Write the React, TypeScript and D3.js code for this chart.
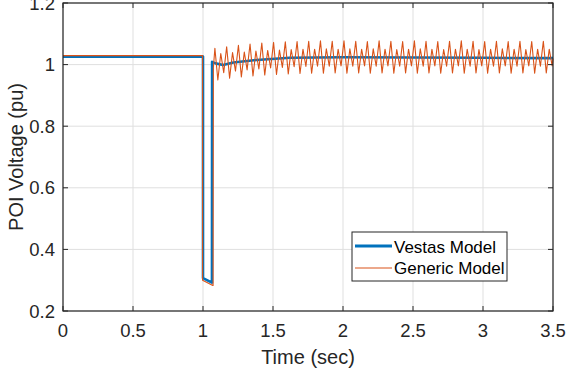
import React from "react";
import * as d3 from "d3";

const xTicks = [0, 0.5, 1, 1.5, 2, 2.5, 3, 3.5];
const yTicks = [0.2, 0.4, 0.6, 0.8, 1, 1.2];
const seriesNames = ["Vestas Model", "Generic Model"];

const vestasTime = [0, 1.0, 1.0, 1.064, 1.065, 1.09, 1.143, 1.217, 1.383, 1.62, 2.0, 2.5, 3.0, 3.5];
const vestasVolt = [1.026, 1.026, 0.307, 0.292, 1.009, 1.004, 0.999, 1.007, 1.015, 1.022, 1.024, 1.023, 1.022, 1.021];

const genericTime = [
  0, 0.997, 0.997, 1.07, 1.072, 1.074,
  1.085, 1.106, 1.127, 1.148, 1.169, 1.19, 1.211, 1.232,
  1.253, 1.274, 1.295, 1.315, 1.336, 1.357, 1.378, 1.399,
  1.42, 1.441, 1.462, 1.483, 1.504, 1.525, 1.546, 1.567,
  1.588, 1.609, 1.63, 1.651, 1.672, 1.693, 1.714, 1.735,
  1.755, 1.776, 1.797, 1.818, 1.839, 1.86, 1.881, 1.902,
  1.923, 1.944, 1.965, 1.986, 2.007, 2.028, 2.049, 2.07,
  2.091, 2.112, 2.133, 2.154, 2.174, 2.195, 2.216, 2.237,
  2.258, 2.279, 2.3, 2.321, 2.342, 2.363, 2.384, 2.405,
  2.426, 2.447, 2.468, 2.489, 2.51, 2.531, 2.552, 2.573,
  2.593, 2.614, 2.635, 2.656, 2.677, 2.698, 2.719, 2.74,
  2.761, 2.782, 2.803, 2.824, 2.845, 2.866, 2.887, 2.908,
  2.929, 2.95, 2.971, 2.991, 3.012, 3.033, 3.054, 3.075,
  3.096, 3.117, 3.138, 3.159, 3.18, 3.201, 3.222, 3.243,
  3.264, 3.285, 3.306, 3.327, 3.348, 3.369, 3.39, 3.41,
  3.431, 3.452, 3.473, 3.494, 3.5,
];
const genericVolt = [
  1.029, 1.029, 0.3, 0.283, 0.283, 0.99,
  1.053, 0.95, 1.036, 0.974, 1.058, 0.956, 1.039, 0.979,
  1.063, 0.96, 1.041, 0.983, 1.067, 0.963, 1.044, 0.986,
  1.07, 0.966, 1.046, 0.989, 1.072, 0.968, 1.047, 0.991,
  1.074, 0.97, 1.049, 0.993, 1.075, 0.971, 1.05, 0.994,
  1.076, 0.972, 1.05, 0.995, 1.077, 0.972, 1.051, 0.995,
  1.076, 0.973, 1.05, 0.996, 1.077, 0.972, 1.051, 0.995,
  1.076, 0.973, 1.05, 0.996, 1.075, 0.972, 1.051, 0.995,
  1.077, 0.973, 1.05, 0.996, 1.076, 0.972, 1.049, 0.995,
  1.075, 0.973, 1.05, 0.996, 1.077, 0.972, 1.051, 0.995,
  1.076, 0.973, 1.05, 0.996, 1.075, 0.972, 1.049, 0.995,
  1.076, 0.973, 1.05, 0.996, 1.077, 0.972, 1.05, 0.995,
  1.076, 0.973, 1.049, 0.996, 1.075, 0.972, 1.05, 0.995,
  1.076, 0.973, 1.051, 0.996, 1.075, 0.972, 1.05, 0.995,
  1.076, 0.973, 1.049, 0.996, 1.075, 0.972, 1.05, 0.995,
  1.076, 0.973, 1.05, 0.996, 1.02,
];

const W = 572;
const H = 376;
const M = { left: 63, right: 19, top: 3, bottom: 65 };
const FONT = "'Liberation Sans', Arial, Helvetica, sans-serif";
const BLUE = "#0072BD";
const ORANGE = "#D95319";
const AX = "#262626";

export default function App() {
  const x = d3.scaleLinear().domain([0, 3.5]).range([M.left, W - M.right]);
  const y = d3.scaleLinear().domain([0.2, 1.2]).range([H - M.bottom, M.top]);
  const line = d3
    .line<[number, number]>()
    .x((d) => x(d[0]))
    .y((d) => y(d[1]));
  const vestas = vestasTime.map((t, i) => [t, vestasVolt[i]] as [number, number]);
  const generic = genericTime.map((t, i) => [t, genericVolt[i]] as [number, number]);
  const x0 = x(0), x1 = x(3.5), y0 = y(0.2), y1 = y(1.2);
  const tl = 5;
  const lg = { x: 352, y: 232, w: 155, h: 49 };

  return (
    <div style={{ position: "fixed", left: 0, top: 0 }}>
      <svg width={W} height={H} style={{ display: "block", background: "#fff" }}>
        <rect x={0} y={0} width={W} height={H} fill="#fff" />
        {xTicks.map((t) => (
          <line key={"gx" + t} x1={x(t)} x2={x(t)} y1={y0} y2={y1} stroke="#dfdfdf" strokeWidth={1} />
        ))}
        {yTicks.map((t) => (
          <line key={"gy" + t} x1={x0} x2={x1} y1={y(t)} y2={y(t)} stroke="#dfdfdf" strokeWidth={1} />
        ))}
        <path d={line(vestas) || ""} fill="none" stroke={BLUE} strokeWidth={2.6} strokeLinejoin="round" />
        <path d={line(generic) || ""} fill="none" stroke={ORANGE} strokeWidth={1.1} strokeLinejoin="round" />
        <rect x={x0} y={y1} width={x1 - x0} height={y0 - y1} fill="none" stroke={AX} strokeWidth={1.2} />
        {xTicks.map((t) => (
          <g key={"tx" + t}>
            <line x1={x(t)} x2={x(t)} y1={y0} y2={y0 - tl} stroke={AX} />
            <line x1={x(t)} x2={x(t)} y1={y1} y2={y1 + tl} stroke={AX} />
            <text x={x(t)} y={y0 + 26} textAnchor="middle" fontFamily={FONT} fontSize={18.5} fill={AX}>
              {String(t)}
            </text>
          </g>
        ))}
        {yTicks.map((t) => (
          <g key={"ty" + t}>
            <line x1={x0} x2={x0 + tl} y1={y(t)} y2={y(t)} stroke={AX} />
            <line x1={x1} x2={x1 - tl} y1={y(t)} y2={y(t)} stroke={AX} />
            <text x={x0 - 8} y={y(t) + 6.5} textAnchor="end" fontFamily={FONT} fontSize={18.5} fill={AX}>
              {String(t)}
            </text>
          </g>
        ))}
        <text x={(x0 + x1) / 2} y={364} textAnchor="middle" fontFamily={FONT} fontSize={20} fill={AX}>
          Time (sec)
        </text>
        <text
          transform={`translate(23,${(y0 + y1) / 2}) rotate(-90)`}
          textAnchor="middle"
          fontFamily={FONT}
          fontSize={20}
          fill={AX}
        >
          POI Voltage (pu)
        </text>
        <rect x={lg.x} y={lg.y} width={lg.w} height={lg.h} fill="#fff" stroke={AX} strokeWidth={1} />
        <line x1={355} x2={392} y1={246} y2={246} stroke={BLUE} strokeWidth={3} />
        <line x1={355} x2={392} y1={268} y2={268} stroke={ORANGE} strokeWidth={1.1} />
        <text x={394} y={253} fontFamily={FONT} fontSize={17} fill="#000">
          {seriesNames[0]}
        </text>
        <text x={394} y={274} fontFamily={FONT} fontSize={17} fill="#000">
          {seriesNames[1]}
        </text>
      </svg>
    </div>
  );
}
